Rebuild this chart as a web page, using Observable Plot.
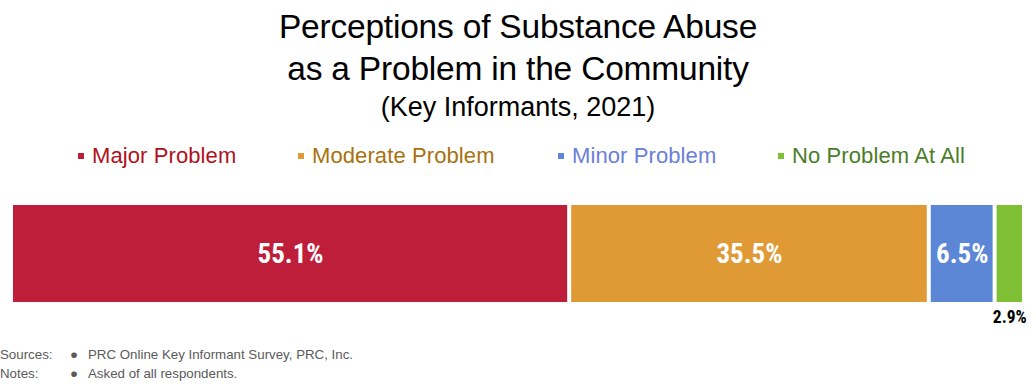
<!DOCTYPE html>
<html>
<head>
<meta charset="utf-8">
<script src="https://cdn.jsdelivr.net/npm/d3@7"></script>
<script src="https://cdn.jsdelivr.net/npm/@observablehq/plot@0.6"></script>
<style>
  html, body { margin: 0; padding: 0; background: #fff; }
  body { width: 1036px; height: 384px; position: relative; overflow: hidden; font-family: "Liberation Sans", Arial, sans-serif; }
  #title { position: absolute; left: 0; width: 1036px; top: 6px; text-align: center; color: #000; }
  #title .t { font-size: 33.5px; line-height: 42px; letter-spacing: -0.2px; }
  #title .s { font-size: 27px; line-height: 34px; }
  .leg { position: absolute; top: 142px; font-size: 22px; line-height: 28px; white-space: nowrap; letter-spacing: 0.1px; }
  .leg .sq { position: absolute; width: 6px; height: 6px; top: 11px; }
  #chart { position: absolute; left: 0; top: 190px; }
  .foot { position: absolute; left: 0; font-size: 13.3px; color: #5a5a5a; white-space: nowrap; }
  .foot span { position: absolute; top: 0; }
</style>
</head>
<body>
<div id="title">
  <div class="t">Perceptions of Substance Abuse</div>
  <div class="t">as a Problem in the Community</div>
  <div class="s">(Key Informants, 2021)</div>
</div>
<div id="legend"></div>
<div id="chart"></div>
<div class="foot" style="top:347px"><span style="left:0">Sources:</span><span style="left:70px">●</span><span style="left:88px">PRC Online Key Informant Survey, PRC, Inc.</span></div>
<div class="foot" style="top:366px"><span style="left:0">Notes:</span><span style="left:70px">●</span><span style="left:88px">Asked of all respondents.</span></div>
<script>
const categories = ["Major Problem", "Moderate Problem", "Minor Problem", "No Problem At All"];
const values = [55.1, 35.5, 6.5, 2.9];
const barColors = ["#be1e3a", "#df9a35", "#5b87d6", "#7fbf33"];
const legendTextColors = ["#b01020", "#a8720e", "#6a80d8", "#4a7d28"];
const legendX = [92, 312, 572, 792];

const data = categories.map((c, i) => ({group: "All", category: c, value: values[i]}));
const fmt = d => d.value.toFixed(1) + "%";

// legend
const leg = document.getElementById("legend");
categories.forEach((c, i) => {
  const d = document.createElement("div");
  d.className = "leg";
  d.style.left = legendX[i] + "px";
  d.style.color = legendTextColors[i];
  d.innerHTML = `<span class="sq" style="left:-14px;background:${barColors[i]}"></span>${c}`;
  leg.appendChild(d);
});

const labelFont = '"Liberation Sans Narrow", "Arial Narrow", "Roboto Condensed", "DejaVu Sans Condensed", sans-serif';

const chart = Plot.plot({
  width: 1036,
  height: 145,
  marginLeft: 9,
  marginRight: 14,
  marginTop: 15,
  marginBottom: 33,
  x: {domain: [0, 100], axis: null},
  y: {domain: ["All"], axis: null, padding: 0},
  color: {domain: categories, range: barColors},
  marks: [
    Plot.barX(data, Plot.stackX({
      x: "value", y: "group", fill: "category", order: null, insetLeft: 4
    })),
    Plot.text(data, Plot.stackX({
      x: "value", y: "group", order: null,
      text: d => d.value >= 5 ? fmt(d) : "",
      fill: "white", fontSize: 27, fontWeight: "bold", dx: 2,
      fontFamily: labelFont
    })),
    Plot.text(data, Plot.stackX({
      x: "value", y: "group", order: null,
      text: d => d.value < 5 ? fmt(d) : "",
      fill: "black", fontSize: 17.5, fontWeight: "bold", dx: 2, dy: 63,
      fontFamily: labelFont
    }))
  ]
});
document.getElementById("chart").appendChild(chart);
</script>
</body>
</html>
